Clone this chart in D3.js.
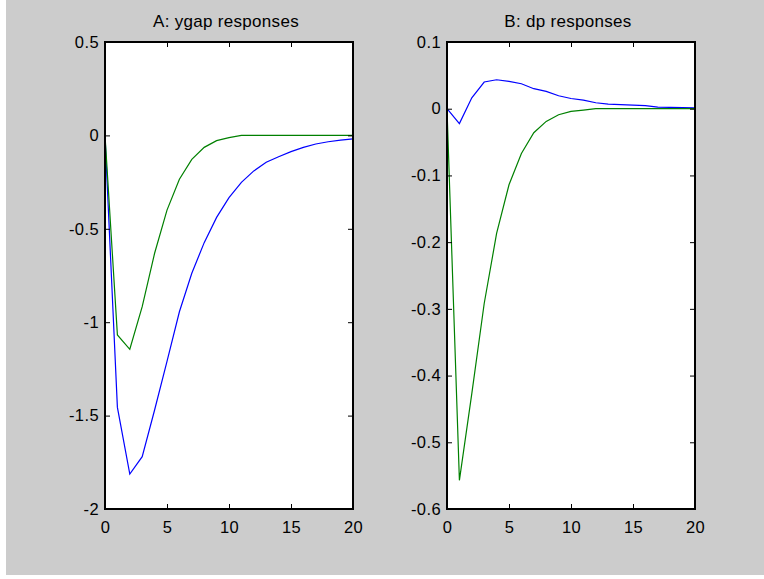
<!DOCTYPE html>
<html>
<head>
<meta charset="utf-8">
<script src="https://cdn.jsdelivr.net/npm/d3@7"></script>
<style>
  html, body { margin: 0; padding: 0; background: #ffffff; }
  svg { display: block; }
  text { font-family: "Liberation Sans", Arial, Helvetica, sans-serif; fill: #000; }
</style>
</head>
<body>
<svg id="fig" width="764" height="579"></svg>
<script>
// Horizon (periods after the shock)
const periods = d3.range(0, 21);

// Panel A: output-gap responses
const ygapBlue = [0, -1.456, -1.813, -1.72, -1.47, -1.21, -0.944, -0.738, -0.574, -0.439,
                  -0.333, -0.251, -0.19, -0.144, -0.114, -0.087, -0.064, -0.046, -0.034, -0.025, -0.019];
const ygapGreen = [0, -1.068, -1.145, -0.917, -0.631, -0.40, -0.235, -0.128, -0.064, -0.028,
                   -0.012, 0, 0, 0, 0, 0, 0, 0, 0, 0, 0];

// Panel B: inflation responses
const dpBlue = [0, -0.0223, 0.0164, 0.040, 0.0434, 0.041, 0.0374, 0.030, 0.026, 0.0194,
                0.0153, 0.0128, 0.0089, 0.0068, 0.0062, 0.0053, 0.0045, 0.0023, 0.002, 0.0016, 0.0013];
const dpGreen = [0, -0.557, -0.427, -0.292, -0.187, -0.114, -0.067, -0.036, -0.019, -0.009,
                 -0.004, -0.002, 0, 0, 0, 0, 0, 0, 0, 0, 0];

// Tick labels
const xTicks = [0, 5, 10, 15, 20];
const yTicksA = [-2, -1.5, -1, -0.5, 0, 0.5];
const yTicksB = [-0.6, -0.5, -0.4, -0.3, -0.2, -0.1, 0, 0.1];

const titles = ["A: ygap responses", "B: dp responses"];

const svg = d3.select("#fig");

// figure background
svg.append("rect")
  .attr("x", 6).attr("y", 0)
  .attr("width", 758).attr("height", 575)
  .attr("fill", "#cccccc");

const panels = [
  { title: titles[0], left: 105, right: 353, top: 42, bottom: 509,
    yDomain: [-2, 0.5], yTicks: yTicksA, series: [ygapBlue, ygapGreen] },
  { title: titles[1], left: 447, right: 695, top: 42, bottom: 509,
    yDomain: [-0.6, 0.1], yTicks: yTicksB, series: [dpBlue, dpGreen] }
];

const colors = ["#0000ff", "#008000"];
const fontSize = "16.5px";

panels.forEach(p => {
  const x = d3.scaleLinear().domain([0, 20]).range([p.left, p.right]);
  const y = d3.scaleLinear().domain(p.yDomain).range([p.bottom, p.top]);
  const g = svg.append("g");

  // plot area
  g.append("rect")
    .attr("x", p.left).attr("y", p.top)
    .attr("width", p.right - p.left).attr("height", p.bottom - p.top)
    .attr("fill", "#ffffff");

  // response lines
  const line = d3.line().x((d, i) => x(periods[i])).y(d => y(d));
  p.series.forEach((s, k) => {
    g.append("path")
      .datum(s)
      .attr("d", line)
      .attr("fill", "none")
      .attr("stroke", colors[k])
      .attr("stroke-width", 1.2)
      .attr("stroke-linejoin", "miter");
  });

  const fmt = d => String(d);

  // bottom axis with labels, ticks pointing inward
  const bottom = g.append("g").attr("transform", `translate(0,${p.bottom})`)
    .call(d3.axisBottom(x).tickValues(xTicks).tickFormat(fmt).tickSizeInner(-5).tickSizeOuter(0).tickPadding(12));
  // top axis, ticks only
  const top = g.append("g").attr("transform", `translate(0,${p.top})`)
    .call(d3.axisTop(x).tickValues(xTicks).tickFormat("").tickSizeInner(-5).tickSizeOuter(0));
  // left axis with labels
  const leftAx = g.append("g").attr("transform", `translate(${p.left},0)`)
    .call(d3.axisLeft(y).tickValues(p.yTicks).tickFormat(fmt).tickSizeInner(-5).tickSizeOuter(0).tickPadding(6));
  // right axis, ticks only
  const rightAx = g.append("g").attr("transform", `translate(${p.right},0)`)
    .call(d3.axisRight(y).tickValues(p.yTicks).tickFormat("").tickSizeInner(-5).tickSizeOuter(0));

  [bottom, top, leftAx, rightAx].forEach(a => {
    a.select(".domain").remove();
    a.selectAll(".tick line").attr("stroke", "#000").attr("stroke-width", 1);
    a.selectAll("text")
      .attr("font-family", "Liberation Sans, Arial, Helvetica, sans-serif")
      .attr("font-size", fontSize)
      .attr("letter-spacing", "0.4px")
      .attr("fill", "#000");
  });
  bottom.selectAll("text").attr("dy", "0.71em");

  // axes box
  g.append("rect")
    .attr("x", p.left).attr("y", p.top)
    .attr("width", p.right - p.left).attr("height", p.bottom - p.top)
    .attr("fill", "none")
    .attr("stroke", "#000")
    .attr("stroke-width", 2);

  // panel title
  g.append("text")
    .attr("x", (p.left + p.right) / 2 - 3)
    .attr("y", 27)
    .attr("text-anchor", "middle")
    .attr("font-size", "17px")
    .attr("letter-spacing", "0.3px")
    .text(p.title);
});
</script>
</body>
</html>
